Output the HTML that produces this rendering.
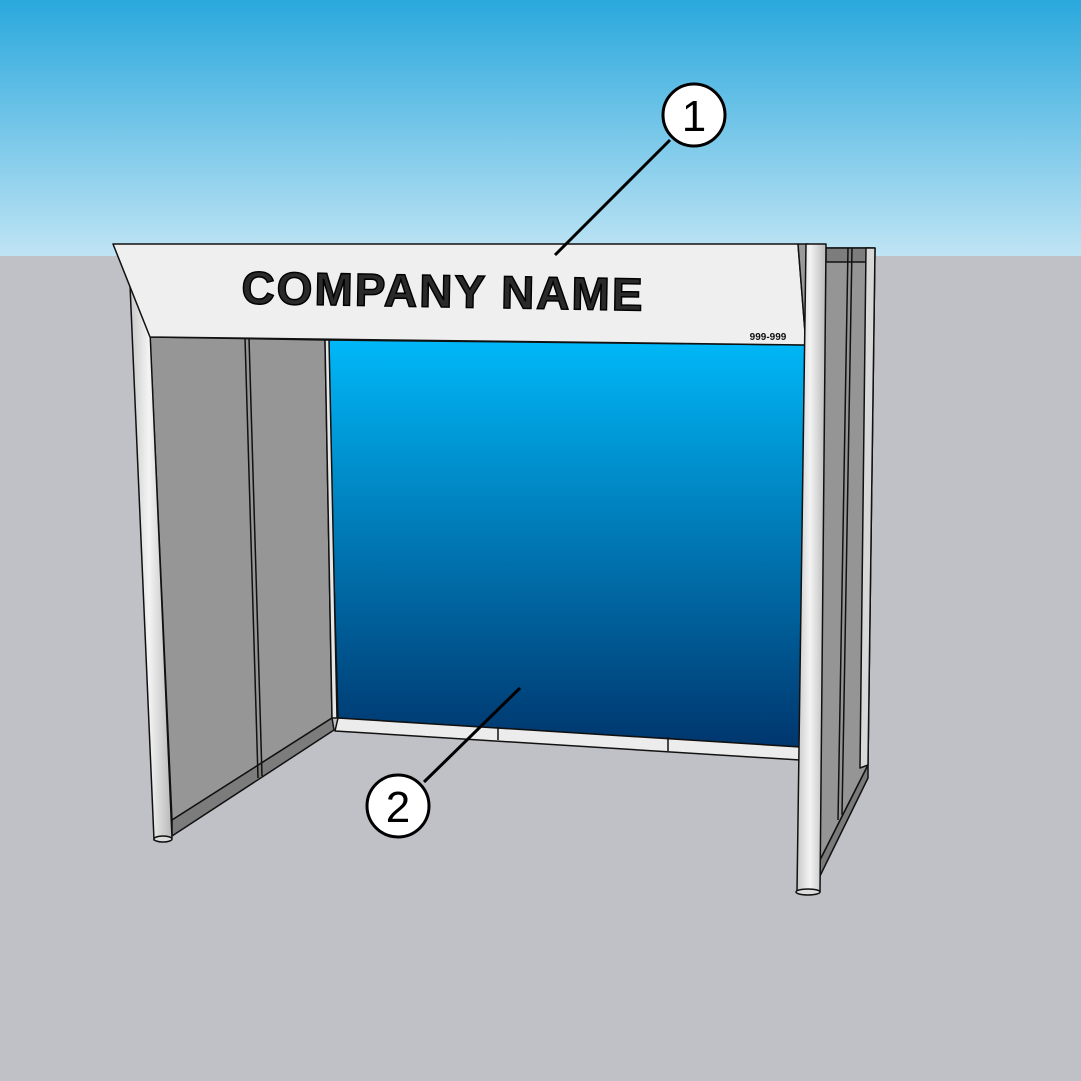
<!DOCTYPE html>
<html><head><meta charset="utf-8"><style>html,body{margin:0;padding:0;width:1081px;height:1081px;overflow:hidden}</style></head>
<body>
<svg width="1081" height="1081" viewBox="0 0 1081 1081" xmlns="http://www.w3.org/2000/svg">
<defs>
<linearGradient id="sky" x1="0" y1="0" x2="0" y2="1"><stop offset="0" stop-color="#2aa8dd"/><stop offset="1" stop-color="#bfe4f4"/></linearGradient>
<linearGradient id="blue" x1="0" y1="0" x2="0" y2="1"><stop offset="0" stop-color="#00b8f8"/><stop offset="1" stop-color="#00366e"/></linearGradient>
<linearGradient id="post" x1="0" y1="0" x2="1" y2="0"><stop offset="0" stop-color="#c8c8c8"/><stop offset="0.45" stop-color="#f4f4f4"/><stop offset="1" stop-color="#b8b8b8"/></linearGradient>
</defs>
<rect width="1081" height="256" fill="url(#sky)"/>
<rect y="256" width="1081" height="825" fill="#c0c1c6"/>
<g stroke="#111" stroke-width="1.5" stroke-linejoin="round">
<polygon points="327,340 806,345 800,747 338,718" fill="url(#blue)"/>
<polygon points="338,718 800,747 800,760 335,731" fill="#ececec"/>
<line x1="498" y1="727" x2="498" y2="740"/><line x1="668" y1="737" x2="668" y2="751"/>
<polygon points="150,337 325,340 332,718 172,820" fill="#969696"/>
<polygon points="172,820 332,718 334,730 172,836" fill="#7c7c7c"/>
<polygon points="325,340 329,340 337,718 332,718" fill="#e6e6e6"/>
<line x1="245" y1="338" x2="258" y2="778"/><line x1="249" y1="338" x2="262" y2="776"/>
<polygon points="130,285 148,285 172,838 154,840" fill="url(#post)"/>
<ellipse cx="163" cy="839" rx="9" ry="3" fill="#ddd"/>
<polygon points="113,244 798,244 806,345 150,337" fill="#efefef"/>
<polygon points="798,244 808,244 812,342 806,345" fill="#9a9a9a"/>
<polygon points="826,248 875,248 868,765 815,870" fill="#959595"/>
<polygon points="826,248 870,248 870,262 826,262" fill="#7d7d7d"/>
<line x1="848" y1="248" x2="838" y2="820"/><line x1="852" y1="248" x2="842" y2="815"/>
<polygon points="866,248 875,248 868,765 860,768" fill="#d8d8d8"/>
<polygon points="815,870 868,765 868,778 818,880" fill="#7a7a7a"/>
<polygon points="806,244 826,244 820,892 797,892" fill="url(#post)"/>
<ellipse cx="808" cy="892" rx="12" ry="3" fill="#ddd"/>
</g>
<text x="443" y="307" text-anchor="middle" font-family="Liberation Sans, sans-serif" font-weight="bold" font-size="46" fill="#2a2a2a" stroke="#000" stroke-width="1.5" transform="rotate(1 443 292)" letter-spacing="2">COMPANY NAME</text>
<text x="768" y="340" text-anchor="middle" font-family="Liberation Sans, sans-serif" font-weight="bold" font-size="10" fill="#111">999-999</text>
<g stroke="#000" stroke-width="3" fill="#fff">
<line x1="555" y1="255" x2="670" y2="140"/>
<line x1="520" y1="688" x2="424" y2="782"/>
<circle cx="694" cy="115" r="31"/>
<circle cx="398" cy="806" r="31"/>
</g>
<g font-family="Liberation Sans, sans-serif" font-size="44" text-anchor="middle" fill="#000">
<text x="694" y="131">1</text>
<text x="398" y="822">2</text>
</g>
</svg>
</body></html>
